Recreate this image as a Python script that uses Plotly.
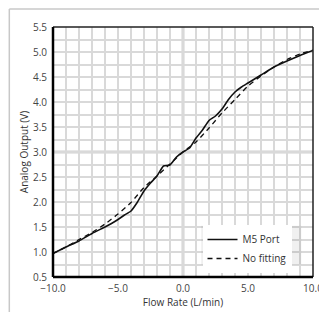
import plotly.graph_objects as go

# Data
m5_x = [-10, -9, -8, -7, -6, -5.5, -5, -4.5, -4, -3.5, -3, -2.5, -2, -1.5, -1, -0.5,
        0, 0.5, 1, 1.5, 2, 2.5, 3, 3.5, 4, 4.5, 5, 6, 7, 8, 9, 10]
m5_y = [0.97, 1.10, 1.22, 1.37, 1.50, 1.57, 1.65, 1.74, 1.82, 2.00, 2.22, 2.38, 2.52, 2.72, 2.74, 2.90,
        3.00, 3.08, 3.28, 3.44, 3.63, 3.72, 3.86, 4.05, 4.20, 4.30, 4.38, 4.54, 4.70, 4.82, 4.93, 5.03]

nofit_x = [-10, -9, -8, -7, -6, -5, -4, -3, -2, -1, 0, 1, 2, 3, 4, 5, 6, 7, 8, 9, 10]
nofit_y = [0.97, 1.10, 1.25, 1.39, 1.56, 1.76, 1.99, 2.29, 2.52, 2.76, 3.00, 3.20, 3.48, 3.78,
           4.05, 4.32, 4.52, 4.70, 4.85, 4.96, 5.04]

x_range = [-10, 10]
y_range = [0.5, 5.5]

fig = go.Figure()
fig.add_trace(go.Scatter(x=m5_x, y=m5_y, mode="lines", name="M5 Port",
                         line=dict(color="#111111", width=1.6, shape="spline", smoothing=0.5)))
fig.add_trace(go.Scatter(x=nofit_x, y=nofit_y, mode="lines", name="No fitting",
                         line=dict(color="#111111", width=1.3, dash="5px,4px", shape="spline", smoothing=0.6)))

grid_c = "#d9d9d9"
fig.update_xaxes(range=x_range, dtick=5, tickformat=".1f", showgrid=True, gridcolor=grid_c, gridwidth=1.5,
                 minor=dict(dtick=1, showgrid=True, gridcolor=grid_c, gridwidth=1.5),
                 zeroline=False, showline=False, ticks="", ticklabelstandoff=4, automargin=False,
                 tickfont=dict(size=10, color="#444444", family="Open Sans"),
                 title=dict(text="Flow Rate (L/min)", font=dict(size=10, color="#333333", family="Open Sans"),
                            standoff=2))
fig.update_yaxes(range=y_range, dtick=0.5, tickformat=".1f", showgrid=True, gridcolor=grid_c, gridwidth=1.5,
                 minor=dict(dtick=0.25, showgrid=True, gridcolor=grid_c, gridwidth=1.5),
                 zeroline=False, showline=False, ticks="", ticklabelstandoff=5, automargin=False,
                 tickfont=dict(size=10, color="#444444", family="Open Sans"),
                 title=dict(text="Analog Output (V)", font=dict(size=10, color="#333333", family="Open Sans"),
                            standoff=2))

shapes = [
    # center lines
    dict(type="line", xref="x", yref="paper", x0=0, x1=0, y0=0, y1=1, line=dict(color="#d0d0d0", width=3), layer="below"),
    dict(type="line", xref="paper", yref="y", x0=0, x1=1, y0=3, y1=3, line=dict(color="#d0d0d0", width=3), layer="below"),
    # plot frame
    dict(type="line", xref="paper", yref="paper", x0=0, x1=1, y0=1, y1=1, line=dict(color="#222222", width=1.5)),
    dict(type="line", xref="paper", yref="paper", x0=1, x1=1, y0=0, y1=1, line=dict(color="#222222", width=1.5)),
    dict(type="line", xref="paper", yref="paper", x0=0, x1=0, y0=0, y1=1, line=dict(color="#000000", width=2.5)),
    dict(type="line", xref="paper", yref="paper", x0=0, x1=1, y0=0, y1=0, line=dict(color="#000000", width=2.5)),
    # outer light frame
    dict(type="line", xref="paper", yref="paper", x0=-0.168, x1=1.06, y0=1.072, y1=1.072, line=dict(color="#c8c8c8", width=1.5)),
    dict(type="line", xref="paper", yref="paper", x0=-0.168, x1=-0.168, y0=1.072, y1=-0.14, line=dict(color="#c8c8c8", width=1.5)),
    # legend shadow
    dict(type="rect", xref="paper", yref="paper", x0=0.57, x1=0.955, y0=0.05, y1=0.205,
         line=dict(width=0), fillcolor="rgba(0,0,0,0.06)"),
]

# the page body adds an 8px offset, so the figure is sized to fit the 327x314 window
fig.update_layout(
    width=319, height=306,
    margin=dict(l=45, r=14, t=19, b=37),
    paper_bgcolor="white", plot_bgcolor="white",
    font=dict(family="Open Sans", color="#333333"),
    shapes=shapes,
    showlegend=True,
    legend=dict(x=0.575, y=0.208, xanchor="left", yanchor="top", bgcolor="white",
                borderwidth=0, font=dict(size=10, color="#333333", family="Open Sans"),
                tracegroupgap=0, itemwidth=30),
)

fig.write_html("out.html")
